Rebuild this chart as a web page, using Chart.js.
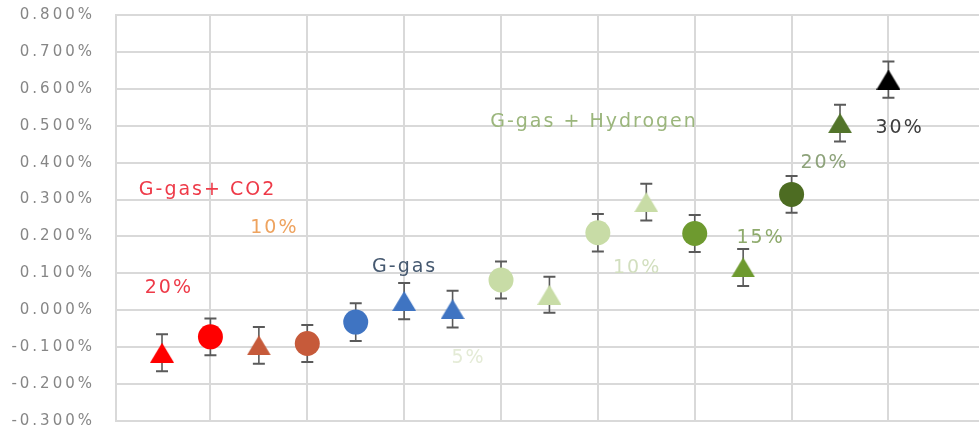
<!DOCTYPE html>
<html>
<head>
<meta charset="utf-8">
<script src="https://cdn.jsdelivr.net/npm/chart.js@4.4.1/dist/chart.umd.min.js"></script>
<style>
  html, body { margin: 0; padding: 0; background: #ffffff; overflow: hidden; }
  #wrap { width: 979px; height: 434px; position: relative; }
</style>
</head>
<body>
<div id="wrap"><canvas id="chart"></canvas></div>
<script>
// Sample positions along the horizontal axis
const positions = [1, 2, 3, 4, 5, 6, 7, 8, 9, 10, 11, 12, 13, 14, 15, 16];
// Measured change (%) and its uncertainty (+/- %)
const values = [-0.115, -0.072, -0.095, -0.090, -0.032, 0.025, 0.003, 0.082, 0.042, 0.210, 0.293, 0.208, 0.116, 0.314, 0.507, 0.625];
const errors = [0.050, 0.050, 0.050, 0.050, 0.051, 0.049, 0.050, 0.050, 0.049, 0.051, 0.050, 0.050, 0.050, 0.050, 0.050, 0.049];
// Y axis range and step (%)
const yTicks = { min: -0.3, max: 0.8, step: 0.1 };

// Marker shape and colour per sample
const shapes = ['triangle', 'circle', 'triangle', 'circle', 'circle', 'triangle', 'triangle', 'circle',
                'triangle', 'circle', 'triangle', 'circle', 'triangle', 'circle', 'triangle', 'triangle'];
const colors = ['#ff0000', '#ff0000', '#c65a3a', '#c65a3a', '#3f74c2', '#3f74c2', '#3f74c2', '#c8dca6',
                '#c8dca6', '#c8dca6', '#c8dca6', '#6e9a2f', '#6e9a2f', '#4d6c22', '#52742a', '#000000'];

// Group names and mixture shares written on the plot
const noteTexts  = ['G-gas+ CO2', '10%', '20%', 'G-gas', '5%', 'G-gas + Hydrogen', '10%', '15%', '20%', '30%'];
const noteX      = [1.92, 3.30, 1.12, 5.99, 7.31, 9.90, 10.79, 13.34, 14.66, 16.21];
const noteY      = [0.327, 0.224, 0.061, 0.118, -0.129, 0.511, 0.115, 0.196, 0.400, 0.495];
const noteColors = ['#ee3a48', '#eea35f', '#ee3a48', '#465970', '#e4ebd6', '#9bb67c', '#d2dfbf', '#8eaa6c', '#8da27a', '#3d3d3d'];

const FONT = '"DejaVu Sans", Verdana, sans-serif';

// Triangle marker centred on its bounding box
function triangleMarker(color) {
  const c = document.createElement('canvas');
  c.width = 24; c.height = 20;
  const g = c.getContext('2d');
  g.fillStyle = color;
  g.beginPath();
  g.moveTo(12, 0);
  g.lineTo(24, 20);
  g.lineTo(0, 20);
  g.closePath();
  g.fill();
  return c;
}
const markerStyles = shapes.map((s, i) => s === 'triangle' ? triangleMarker(colors[i]) : 'circle');

// Vertical error bars with end caps, painted below the markers
const errorBars = {
  id: 'errorBars',
  beforeDatasetsDraw(chart) {
    const { ctx, scales: { x, y } } = chart;
    ctx.save();
    ctx.strokeStyle = '#5a5a5a';
    positions.forEach((p, i) => {
      const px = x.getPixelForValue(p);
      const top = y.getPixelForValue(values[i] + errors[i]);
      const bot = y.getPixelForValue(values[i] - errors[i]);
      ctx.lineWidth = 1.6;
      ctx.beginPath();
      ctx.moveTo(px, top); ctx.lineTo(px, bot);
      ctx.stroke();
      ctx.lineWidth = 2;
      ctx.beginPath();
      ctx.moveTo(px - 6, top); ctx.lineTo(px + 6, top);
      ctx.moveTo(px - 6, bot); ctx.lineTo(px + 6, bot);
      ctx.stroke();
    });
    ctx.restore();
  }
};

// Wide letter spacing for the axis labels
const spacedText = {
  id: 'spacedText',
  beforeDraw(chart) { chart.ctx.letterSpacing = '3px'; },
  afterDraw(chart) { chart.ctx.letterSpacing = '0px'; }
};

// Text notes placed in data coordinates
const notes = {
  id: 'notes',
  afterDatasetsDraw(chart) {
    const { ctx, scales: { x, y } } = chart;
    ctx.save();
    ctx.letterSpacing = '2px';
    ctx.font = '19px ' + FONT;
    ctx.textAlign = 'center';
    ctx.textBaseline = 'middle';
    noteTexts.forEach((t, i) => {
      ctx.fillStyle = noteColors[i];
      ctx.fillText(t, x.getPixelForValue(noteX[i]) + 1, y.getPixelForValue(noteY[i]));
    });
    ctx.restore();
  }
};

new Chart(document.getElementById('chart'), {
  type: 'scatter',
  data: {
    datasets: [{
      data: positions.map((p, i) => ({ x: p, y: values[i] })),
      pointStyle: markerStyles,
      pointRadius: 12.5,
      pointHoverRadius: 12.5,
      pointBackgroundColor: colors,
      pointBorderColor: colors,
      pointBorderWidth: 0,
      clip: false
    }]
  },
  options: {
    responsive: true,
    maintainAspectRatio: false,
    animation: false,
    events: [],
    layout: { autoPadding: false, padding: { top: 15, right: 0, bottom: 13, left: 0 } },
    plugins: { legend: { display: false }, tooltip: { enabled: false } },
    scales: {
      x: {
        type: 'linear',
        min: 0.05,
        max: 17.87,
        afterBuildTicks(scale) {
          scale.ticks = [2, 4, 6, 8, 10, 12, 14, 16].map(v => ({ value: v }));
        },
        afterFit(scale) { scale.height = 0; },
        ticks: { display: false },
        grid: { color: '#d9d9d9', lineWidth: 2, drawTicks: false },
        border: { display: false }
      },
      y: {
        min: yTicks.min,
        max: yTicks.max,
        afterFit(scale) {
          scale.width = 116;
          scale.paddingTop = 0;
          scale.paddingBottom = 0;
        },
        ticks: {
          stepSize: yTicks.step,
          padding: 21,
          color: '#868686',
          font: { family: FONT, size: 15 },
          callback: v => (Math.abs(v) < 1e-9 ? 0 : v).toFixed(3) + '%'
        },
        grid: { color: '#d9d9d9', lineWidth: 2, drawTicks: false },
        border: { color: '#d9d9d9', width: 2 }
      }
    }
  },
  plugins: [errorBars, spacedText, notes]
});
</script>
</body>
</html>
